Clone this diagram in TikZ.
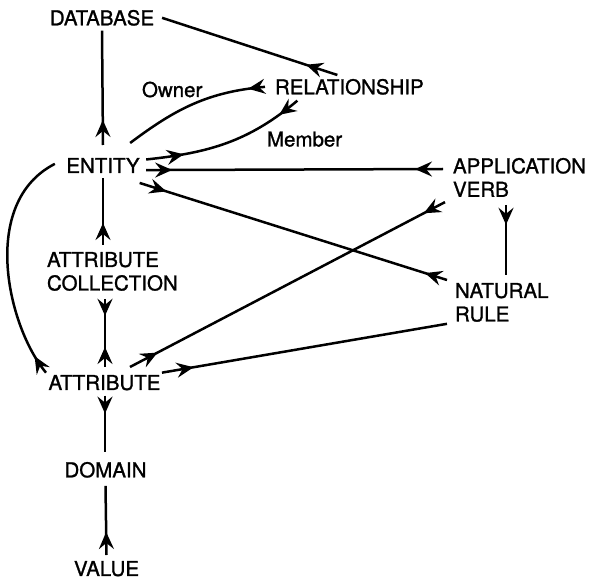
\documentclass[tikz,border=0pt]{standalone}
\usepackage{fontspec}
\setmainfont{TeX Gyre Heros}[RawFeature={embolden=1.2}]
\usetikzlibrary{arrows.meta,decorations.markings}

\tikzset{
  word/.style={font=\fontsize{20.5}{23.5}\selectfont, inner sep=0pt, outer sep=0pt},
  link/.style={line width=2.5pt},
  headat/.style={postaction={decorate,decoration={markings,
      mark=at position #1 with {\arrow{Stealth[length=17pt,width=15pt,inset=6pt]}}}}},
  headback/.style={postaction={decorate,decoration={markings,
      mark=at position #1 with {\arrowreversed{Stealth[length=17pt,width=15pt,inset=6pt]}}}}},
}

\begin{document}
\begin{tikzpicture}[x=1pt,y=1pt]
    \useasboundingbox (0,0) rectangle (592,-580);

    \node[word,anchor=north] (db) at (102,-10) {DATABASE};
    \node[word,anchor=north west] (rel) at (275,-79) {RELATIONSHIP};
    \node[word,anchor=base west] (owner) at (142,-97) {Owner};
    \node[word,anchor=base west] (member) at (267,-146.5) {Member};
    \node[word,anchor=north] (ent) at (103,-158) {ENTITY};
    \node[word,anchor=north west,align=left] (app) at (453,-158) {APPLICATION\\VERB};
    \node[word,anchor=north west,align=left] (acoll) at (47,-252) {ATTRIBUTE\\COLLECTION};
    \node[word,anchor=north west,align=left] (nr) at (455,-283) {NATURAL\\RULE};
    \node[word,anchor=north] (attr) at (104.5,-375) {ATTRIBUTE};
    \node[word,anchor=north] (dom) at (105.5,-462) {DOMAIN};
    \node[word,anchor=north] (val) at (106.5,-561) {VALUE};

    \draw[link,headat=25pt] ([yshift=13pt]ent.north) -- ([yshift=-5pt]db.south);
    \draw[link,headat=33pt] ([xshift=-12pt,yshift=4pt]rel.north) -- ([xshift=8pt]db.east);
    \draw[link,headat=17pt] ([xshift=-10pt]rel.west) to[out=185,in=37] ([xshift=-9.5pt,yshift=15pt]ent.north east);
    \draw[link,headat=23pt,headback=-38pt] ([xshift=-52pt,yshift=-6pt]rel.south) to[out=220,in=6] ([xshift=6.5pt,yshift=6pt]ent.east);
    \draw[link,headat=26pt,headback=-28pt] ([xshift=6.5pt,yshift=-4.6pt]ent.east) -- ([xshift=-10pt,yshift=-11pt]app.north west);
    \draw[link,headat=28pt,headback=-23pt] ([yshift=-10pt]ent.south east) -- ([xshift=-8pt,yshift=3pt]nr.north west);
    \draw[link,headat=31pt,headback=-24pt] ([xshift=25.5pt,yshift=8pt]attr.north) -- ([xshift=-8pt,yshift=-5.3pt]app.south west);
    \draw[link,headat=32pt] ([xshift=1.5pt,yshift=10pt]attr.east) -- ([xshift=-8pt,yshift=-2pt]nr.south west);
    \draw[link,headat=20pt] ([xshift=53pt,yshift=-8pt]app.south west) -- ([xshift=51pt,yshift=8pt]nr.north west);
    \draw[link,headat=20pt] ([xshift=-2.5pt,yshift=10pt]attr.west) .. controls +(-38.6,46) and +(-75.7,-38.6) .. ([xshift=-11.5pt,yshift=1.6pt]ent.west);
    \draw[link,headat=22pt] ([xshift=56pt,yshift=7pt]acoll.north west) -- ([yshift=-5.3pt]ent.south);
    \draw[link,headat=17pt,headback=-20pt] ([xshift=58pt,yshift=-8pt]acoll.south west) -- ([xshift=.5pt,yshift=8pt]attr.north);
    \draw[link,headat=18pt] ([xshift=.5pt,yshift=-5.3pt]attr.south) -- ([xshift=-.5pt,yshift=10pt]dom.north);
    \draw[link,headat=23pt] ([yshift=6pt]val.north) -- ([yshift=-8.3pt]dom.south);
\end{tikzpicture}
\end{document}
